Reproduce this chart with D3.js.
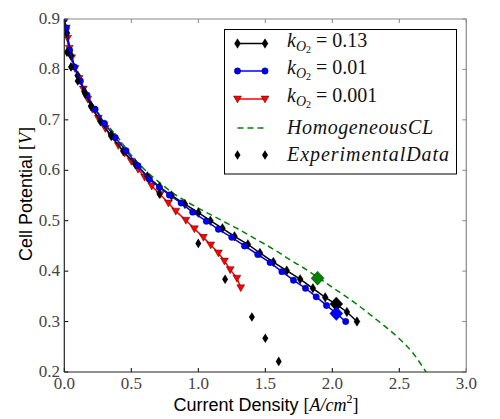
<!DOCTYPE html>
<html><head><meta charset="utf-8">
<script src="https://cdn.jsdelivr.net/npm/d3@7"></script>
<style>body{margin:0;background:#fff}svg{display:block}</style>
</head><body>
<svg id="c" width="500" height="419"></svg>
<script>
// ---- data ----
const xTicks = [0.0,0.5,1.0,1.5,2.0,2.5,3.0];
const yTicks = [0.2,0.3,0.4,0.5,0.6,0.7,0.8,0.9];

const k013I = [0,0.02,0.05,0.1,0.15,0.2,0.27,0.35,0.44,0.53,0.62,0.71,0.8,0.9,1.0,1.09,1.18,1.27,1.37,1.46,1.56,1.66,1.76,1.855,1.947,2.03,2.109,2.184];
const k013V = [0.9,0.872,0.828,0.788,0.756,0.727,0.697,0.668,0.638,0.612,0.588,0.567,0.55,0.533,0.516,0.5,0.485,0.469,0.453,0.436,0.418,0.401,0.384,0.366,0.348,0.334,0.319,0.300];

const k001I = [0,0.015,0.04,0.075,0.12,0.17,0.23,0.3,0.38,0.46,0.55,0.635,0.71,0.784,0.872,0.958,1.06,1.15,1.25,1.345,1.444,1.536,1.624,1.71,1.80,1.88,1.957,2.03,2.10];
const k001V = [0.9,0.882,0.838,0.805,0.777,0.749,0.721,0.693,0.665,0.639,0.609,0.582,0.566,0.551,0.535,0.517,0.499,0.483,0.467,0.45,0.433,0.417,0.399,0.382,0.366,0.349,0.332,0.316,0.3];

const k0001I = [0,0.015,0.025,0.037,0.055,0.08,0.11,0.142,0.175,0.21,0.254,0.306,0.354,0.403,0.45,0.5,0.55,0.6,0.653,0.715,0.777,0.832,0.907,0.971,1.038,1.093,1.15,1.195,1.238,1.288,1.317];
const k0001V = [0.9,0.882,0.862,0.842,0.823,0.802,0.782,0.761,0.741,0.721,0.703,0.683,0.667,0.649,0.634,0.618,0.602,0.586,0.569,0.552,0.535,0.519,0.501,0.484,0.467,0.452,0.436,0.42,0.403,0.386,0.367];

const homI = [0,0.01,0.03,0.06,0.1,0.15,0.2,0.3,0.4,0.5,0.6,0.7,0.8,0.9,1.0,1.1,1.2,1.3,1.4,1.5,1.6,1.7,1.8,1.9,2.0,2.1,2.2,2.3,2.4,2.5,2.6,2.7];
const homV = [0.9,0.88,0.848,0.818,0.79,0.76,0.735,0.697,0.665,0.63,0.601,0.578,0.557,0.54,0.525,0.511,0.497,0.483,0.468,0.453,0.437,0.42,0.404,0.386,0.368,0.35,0.331,0.31,0.289,0.266,0.238,0.2];

const expI = [0.02,0.05,0.1,0.155,0.2,0.35,0.71,1.0,1.2,1.4,1.5,1.6];
const expV = [0.834,0.805,0.777,0.752,0.728,0.671,0.553,0.455,0.384,0.309,0.267,0.221];

// big markers: [I, V]
const bigGreen = [1.89, 0.386];
const bigBlack = [2.03, 0.335];
const bigBlue  = [2.03, 0.316];

// ---- layout ----
const svg = d3.select('#c');
const L=64.3, R=466.3, T=19, B=372;
const x = d3.scaleLinear().domain([0,3]).range([L,R]);
const y = d3.scaleLinear().domain([0.2,0.9]).range([B,T]);
const serif = "'Liberation Serif','DejaVu Serif',serif";
const sans = "'Liberation Sans','DejaVu Sans',sans-serif";

svg.append('defs').append('clipPath').attr('id','clip')
  .append('rect').attr('x',L).attr('y',T).attr('width',R-L).attr('height',B-T);

const zip = (a,b)=>a.map((v,i)=>[v,b[i]]);
const line = d3.line().x(d=>x(d[0])).y(d=>y(d[1]));
const smooth = d3.line().x(d=>x(d[0])).y(d=>y(d[1])).curve(d3.curveMonotoneX);
const plot = svg.append('g').attr('clip-path','url(#clip)');

const diamondThin = "M0,-4.8L3,0L0,4.8L-3,0Z";
const triDown = "M-4,-3L4,-3L0,4Z";

function series(data, color, marker, opts){
  plot.append('path').datum(data).attr('d',opts&&opts.dash ? smooth : line).attr('fill','none')
    .attr('stroke',color).attr('stroke-width',1.5)
    .attr('stroke-dasharray', opts&&opts.dash ? opts.dash : null);
  if(marker==='circle'){
    plot.selectAll(null).data(data).enter().append('circle')
      .attr('cx',d=>x(d[0])).attr('cy',d=>y(d[1])).attr('r',3.2)
      .attr('fill',color).attr('stroke','#000').attr('stroke-width',0.4);
  } else if(marker){
    plot.selectAll(null).data(data).enter().append('path')
      .attr('d',marker).attr('transform',d=>`translate(${x(d[0])},${y(d[1])})`)
      .attr('fill',color).attr('stroke','#000').attr('stroke-width',0.4);
  }
}

series(zip(homI,homV),'#008000',null,{dash:'6,4'});
series(zip(k0001I,k0001V),'#ff0000',triDown);
series(zip(k013I,k013V),'#000000',diamondThin);
series(zip(k001I,k001V),'#0000ff','circle');

plot.selectAll(null).data(zip(expI,expV)).enter().append('path')
  .attr('d',diamondThin).attr('transform',d=>`translate(${x(d[0])},${y(d[1])})`)
  .attr('fill','#000');

const bigD = "M0,-7L6.5,0L0,7L-6.5,0Z";
[[bigGreen,'#008000'],[bigBlack,'#000000'],[bigBlue,'#0000ff']].forEach(([p,c])=>{
  plot.append('path').attr('d',bigD).attr('transform',`translate(${x(p[0])},${y(p[1])})`)
    .attr('fill',c).attr('stroke','#000').attr('stroke-width',0.4);
});

// ---- axes frame ----
const ax = svg.append('g');
const tk = 4;
xTicks.forEach(t=>{
  ax.append('line').attr('x1',x(t)).attr('x2',x(t)).attr('y1',B).attr('y2',B-tk).attr('stroke','#000');
  ax.append('line').attr('x1',x(t)).attr('x2',x(t)).attr('y1',T).attr('y2',T+tk).attr('stroke','#888');
  ax.append('text').attr('x',x(t)).attr('y',389).attr('text-anchor','middle')
    .attr('font-family',serif).attr('font-size',17).attr('fill','#444').text(t.toFixed(1));
});
yTicks.forEach(t=>{
  ax.append('line').attr('x1',L).attr('x2',L+tk).attr('y1',y(t)).attr('y2',y(t)).attr('stroke','#000');
  ax.append('line').attr('x1',R).attr('x2',R-tk).attr('y1',y(t)).attr('y2',y(t)).attr('stroke','#888');
  ax.append('text').attr('x',60).attr('y',y(t)+5).attr('text-anchor','end')
    .attr('font-family',serif).attr('font-size',17).attr('fill','#444').text(t.toFixed(1));
});
ax.append('line').attr('x1',L).attr('x2',R).attr('y1',T).attr('y2',T).attr('stroke','#888').attr('stroke-width',1.2);
ax.append('line').attr('x1',R).attr('x2',R).attr('y1',T).attr('y2',B).attr('stroke','#888').attr('stroke-width',1.2);
ax.append('line').attr('x1',L).attr('x2',R).attr('y1',B).attr('y2',B).attr('stroke','#222').attr('stroke-width',1.2);
ax.append('line').attr('x1',L).attr('x2',L).attr('y1',T).attr('y2',B).attr('stroke','#222').attr('stroke-width',1.2);

// axis labels
const xl = svg.append('text').attr('x',266).attr('y',411).attr('text-anchor','middle')
  .attr('font-size',18).attr('fill','#000');
xl.append('tspan').attr('font-family',sans).text('Current Density ');
xl.append('tspan').attr('font-family',serif).text('[');
xl.append('tspan').attr('font-family',serif).attr('font-style','italic').text('A/cm');
xl.append('tspan').attr('font-family',serif).attr('font-size',12).attr('dy',-8).text('2');
xl.append('tspan').attr('font-family',serif).attr('dy',8).text(']');

const yl = svg.append('text').attr('transform','translate(32,194) rotate(-90)').attr('text-anchor','middle')
  .attr('font-size',18).attr('fill','#000');
yl.append('tspan').attr('font-family',sans).text('Cell Potential ');
yl.append('tspan').attr('font-family',serif).text('[');
yl.append('tspan').attr('font-family',serif).attr('font-style','italic').text('V');
yl.append('tspan').attr('font-family',serif).text(']');

// ---- legend ----
const lg = svg.append('g');
lg.append('rect').attr('x',224.5).attr('y',29.5).attr('width',232).attr('height',144.5)
  .attr('fill','#fff').attr('stroke','#000').attr('stroke-width',1);
const lx1=237.5, lx2=265, tx=287;
const rows = [
  {y:43.5, color:'#000', marker:diamondThin, label:'0.13'},
  {y:71, color:'#0000ff', marker:'circle', label:'0.01'},
  {y:99, color:'#ff0000', marker:triDown, label:'0.001'}
];
rows.forEach(r=>{
  lg.append('line').attr('x1',lx1).attr('x2',lx2).attr('y1',r.y).attr('y2',r.y).attr('stroke',r.color).attr('stroke-width',1.5);
  [lx1,lx2].forEach(px=>{
    if(r.marker==='circle') lg.append('circle').attr('cx',px).attr('cy',r.y).attr('r',3.2).attr('fill',r.color).attr('stroke','#000').attr('stroke-width',0.4);
    else lg.append('path').attr('d',r.marker).attr('transform',`translate(${px},${r.y})`).attr('fill',r.color).attr('stroke','#000').attr('stroke-width',0.4);
  });
  const t = lg.append('text').attr('x',tx).attr('y',r.y+3).attr('font-family',serif).attr('font-size',20).attr('fill','#111');
  t.append('tspan').attr('font-style','italic').text('k');
  t.append('tspan').attr('font-style','italic').attr('font-size',14).attr('dy',4).text('O');
  t.append('tspan').attr('font-size',10).attr('dy',2).text('2');
  t.append('tspan').attr('dy',-6).attr('dx',5).text('=');
  t.append('tspan').attr('dx',5).text(r.label);
});
lg.append('line').attr('x1',lx1).attr('x2',lx2).attr('y1',128).attr('y2',128).attr('stroke','#008000').attr('stroke-width',1.5).attr('stroke-dasharray','6,4');
lg.append('text').attr('x',tx).attr('y',134).attr('font-family',serif).attr('font-style','italic').attr('font-size',20).attr('fill','#111')
  .attr('textLength',146).attr('lengthAdjust','spacing').text('HomogeneousCL');
[lx1,lx2].forEach(px=>lg.append('path').attr('d',diamondThin).attr('transform',`translate(${px},155)`).attr('fill','#000'));
lg.append('text').attr('x',tx).attr('y',161).attr('font-family',serif).attr('font-style','italic').attr('font-size',20).attr('fill','#111')
  .attr('textLength',162).attr('lengthAdjust','spacing').text('ExperimentalData');
</script>
</body></html>
